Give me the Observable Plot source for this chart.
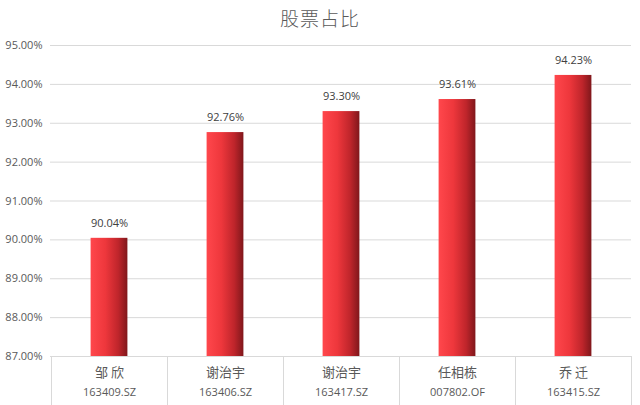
<!DOCTYPE html>
<html><head><meta charset="utf-8">
<script src="https://cdn.jsdelivr.net/npm/d3@7"></script>
<script src="https://cdn.jsdelivr.net/npm/@observablehq/plot@0.6"></script>
<style>
body{margin:0;background:#fff;}
#title{height:35px;line-height:36px;text-align:center;font-size:19px;color:#595959;font-family:"Noto Sans CJK SC",sans-serif;font-weight:300;letter-spacing:1px}
</style></head><body>
<div id="title">股票占比</div><div id="chart"></div>
<script>
const managers = ["邹 欣", "谢治宇", "谢治宇", "任相栋", "乔 迁"];
const codes = ["163409.SZ", "163406.SZ", "163417.SZ", "007802.OF", "163415.SZ"];
const shares = [90.04, 92.76, 93.30, 93.61, 94.23];
const yTicks = [87, 88, 89, 90, 91, 92, 93, 94, 95];

const data = codes.map((c, i) => ({code: c, manager: managers[i], share: shares[i]}));
const nameOf = new Map(codes.map((c, i) => [c, managers[i]]));
const font = '"Open Sans","Noto Sans CJK SC",sans-serif';

const chart = Plot.plot({
  width: 640, height: 370,
  marginTop: 10, marginBottom: 49, marginLeft: 50, marginRight: 9,
  style: {fontFamily: font, fontSize: "11px", color: "#595959", background: "#fff"},
  x: {domain: codes, padding: 0, axis: null, label: null},
  y: {domain: [yTicks[0], yTicks[yTicks.length - 1]], axis: null, label: null},
  marks: [
    Plot.ruleY(yTicks, {stroke: "#d9d9d9", strokeWidth: 1}),
    Plot.barY(data, {x: "code", y1: yTicks[0], y2: "share", fill: "url(#barGrad)", insetLeft: 39.6, insetRight: 39.6}),
    Plot.text(data, {x: "code", y: "share", text: d => d.share.toFixed(2) + "%", dy: -15, fill: "#404040", fontSize: 11}),
    Plot.axisY({ticks: yTicks, tickFormat: d => d.toFixed(2) + "%", tickSize: 0, tickPadding: 8, fill: "#595959", fontSize: 11, label: null}),
    Plot.axisX({tickFormat: c => nameOf.get(c), tickSize: 0, tickPadding: 11, fontSize: 13, fill: "#595959", label: null, fontFamily: '"Noto Sans CJK SC",sans-serif'}),
    Plot.axisX({tickFormat: c => c, tickSize: 0, tickPadding: 32, fontSize: 11, fill: "#595959", label: null})
  ]
});

const svg = d3.select(chart);
svg.insert("defs", ":first-child").html(
  '<linearGradient id="barGrad" x1="0" x2="1" y1="0" y2="0">' +
  '<stop offset="0" stop-color="#ff474c"/>' +
  '<stop offset="0.4" stop-color="#ee373c"/>' +
  '<stop offset="0.75" stop-color="#bf252b"/>' +
  '<stop offset="1" stop-color="#80171b"/>' +
  '</linearGradient>');

// category separators below the baseline
const sx = chart.scale("x"), sy = chart.scale("y");
const yBase = sy.apply(yTicks[0]);
const bounds = codes.map(c => sx.apply(c)).concat([sx.apply(codes[codes.length - 1]) + sx.bandwidth]);
svg.append("g").selectAll("line").data(bounds).join("line")
  .attr("x1", d => d + 0.5).attr("x2", d => d + 0.5)
  .attr("y1", yBase).attr("y2", 370)
  .attr("stroke", "#d9d9d9");

document.getElementById("chart").appendChild(chart);
</script>
</body></html>
